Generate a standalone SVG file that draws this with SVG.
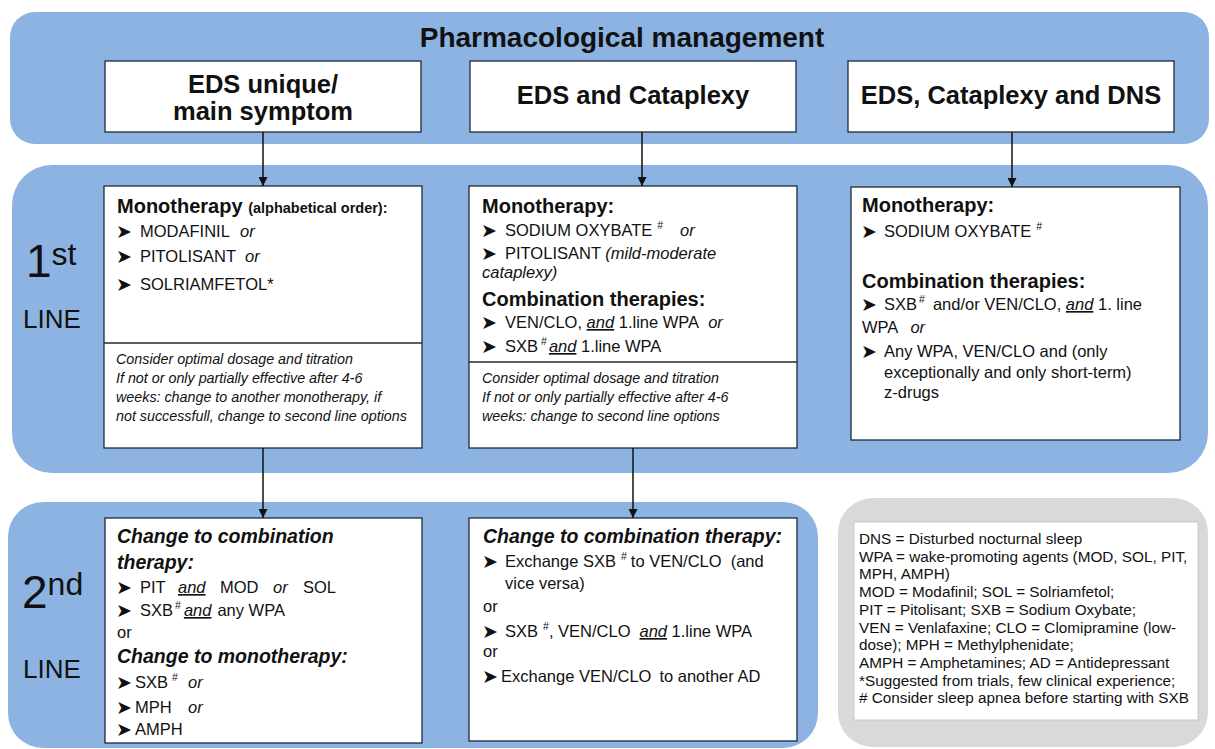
<svg xmlns="http://www.w3.org/2000/svg" width="1215" height="749" viewBox="0 0 1215 749">
<defs>
<marker id="ah" viewBox="0 0 10 10" refX="10" refY="5" markerWidth="9" markerHeight="9" markerUnits="userSpaceOnUse" orient="auto"><path d="M0,0 L10,5 L0,10 z" fill="#111"/></marker>
</defs>
<style>
.band{fill:#8DB3E2}
.box{fill:#fff;stroke:#1e2a38;stroke-width:1.3}
.t{font-family:"Liberation Sans",Arial,sans-serif;fill:#111}
.title{font-weight:bold;font-size:28px}
.h{font-weight:bold;font-size:25.5px}
.b{font-size:16.5px}
.hb{font-weight:bold;font-size:20px}
.hi{font-weight:bold;font-style:italic;font-size:19.5px}
.i{font-style:italic}
.u{font-style:italic;text-decoration:underline}
.n{font-style:italic;font-size:14.3px}
.sup{font-size:10.5px}
.ar{font-family:"DejaVu Sans",sans-serif;font-size:19px;fill:#111}
.line{font-family:"Liberation Sans",Arial,sans-serif;fill:#111}
.lg{font-size:15.3px}
.conn{stroke:#111;stroke-width:1.5;fill:none;marker-end:url(#ah)}
</style>
<rect width="1215" height="749" fill="#fff"/>

<g id="band-top">
<rect class="band" x="10" y="12" width="1199" height="132" rx="25"/>
<text class="t title" x="622" y="47" text-anchor="middle">Pharmacological management</text>
</g>
<g id="band-1st">
<rect class="band" x="12" y="165" width="1196" height="308" rx="40"/>
<text class="line" x="26" y="277" font-size="46">1<tspan font-size="32" dy="-12">st</tspan></text>
<text class="line" x="23" y="328" font-size="26">LINE</text>
</g>
<g id="band-2nd">
<rect class="band" x="8" y="502" width="810" height="246" rx="35"/>
<text class="line" x="22" y="608" font-size="46">2<tspan font-size="32" dy="-13">nd</tspan></text>
<text class="line" x="23" y="678" font-size="26">LINE</text>
</g>

<g id="hdr-eds">
<rect class="box" x="105" y="61" width="316" height="71"/>
<text class="t h" x="263" y="93" text-anchor="middle">EDS unique/</text>
<text class="t h" x="263" y="120" text-anchor="middle">main symptom</text>
</g>
<g id="hdr-eds-cat">
<rect class="box" x="470" y="61" width="326" height="71"/>
<text class="t h" x="633" y="104" text-anchor="middle">EDS and Cataplexy</text>
</g>
<g id="hdr-eds-cat-dns">
<rect class="box" x="848" y="61" width="326" height="71"/>
<text class="t h" x="1011" y="104" text-anchor="middle">EDS, Cataplexy and DNS</text>
</g>

<g id="l1-eds">
<rect class="box" x="104" y="186" width="318" height="262"/>
<line x1="104" y1="343" x2="422" y2="343" stroke="#1e2a38" stroke-width="1.3"/>
<text class="t hb" x="117" y="213">Monotherapy <tspan font-size="14.5">(alphabetical order):</tspan></text>
<text class="ar" x="116" y="238">➤</text><text class="t b" x="140" y="237">MODAFINIL<tspan class="i" x="240">or</tspan></text>
<text class="ar" x="116" y="263">➤</text><text class="t b" x="140" y="262">PITOLISANT<tspan class="i" x="245">or</tspan></text>
<text class="ar" x="116" y="291">➤</text><text class="t b" x="140" y="290">SOLRIAMFETOL*</text>
<text class="t n" x="116" y="364">Consider optimal dosage and titration</text>
<text class="t n" x="116" y="383">If not or only partially effective after 4-6</text>
<text class="t n" x="116" y="402">weeks: change to another monotherapy, if</text>
<text class="t n" x="116" y="421">not successfull, change to second line options</text>
</g>

<g id="l1-eds-cat">
<rect class="box" x="469" y="186" width="328" height="262"/>
<line x1="469" y1="362" x2="797" y2="362" stroke="#1e2a38" stroke-width="1.3"/>
<text class="t hb" x="482" y="213">Monotherapy:</text>
<text class="ar" x="481" y="237">➤</text><text class="t b" x="505" y="236">SODIUM OXYBATE<tspan class="sup" dx="5" dy="-7">#</tspan><tspan class="i" x="680" dy="7">or</tspan></text>
<text class="ar" x="481" y="260">➤</text><text class="t b" x="505" y="259">PITOLISANT <tspan class="i">(mild-moderate</tspan></text>
<text class="t b i" x="482" y="278">cataplexy)</text>
<text class="t hb" x="482" y="306">Combination therapies:</text>
<text class="ar" x="481" y="329">➤</text><text class="t b" x="505" y="328">VEN/CLO, <tspan class="u">and</tspan> 1.line WPA<tspan class="i" dx="9">or</tspan></text>
<text class="ar" x="481" y="353">➤</text><text class="t b" x="505" y="352">SXB<tspan class="sup" dx="3" dy="-7">#</tspan><tspan class="u" dx="2" dy="7">and</tspan> 1.line WPA</text>
<text class="t n" x="482" y="383">Consider optimal dosage and titration</text>
<text class="t n" x="482" y="402">If not or only partially effective after  4-6</text>
<text class="t n" x="482" y="421">weeks: change to second line options</text>
</g>

<g id="l1-eds-cat-dns">
<rect class="box" x="851" y="187" width="329" height="253"/>
<text class="t hb" x="862" y="212">Monotherapy:</text>
<text class="ar" x="861" y="238">➤</text><text class="t b" x="884" y="237">SODIUM OXYBATE<tspan class="sup" dx="5" dy="-7">#</tspan></text>
<text class="t hb" x="862" y="288">Combination therapies:</text>
<text class="ar" x="861" y="311">➤</text><text class="t b" x="884" y="310">SXB<tspan class="sup" dx="2" dy="-7">#</tspan><tspan dx="8" dy="7">and/or VEN/CLO, </tspan><tspan class="u">and</tspan> 1. line</text>
<text class="t b" x="862" y="333">WPA<tspan class="i" dx="12">or</tspan></text>
<text class="ar" x="861" y="358">➤</text><text class="t b" x="884" y="357">Any WPA, VEN/CLO and (only</text>
<text class="t b" x="884" y="378">exceptionally and only short-term)</text>
<text class="t b" x="884" y="398">z-drugs</text>
</g>

<g id="l2-eds">
<rect class="box" x="105" y="518" width="317" height="225"/>
<text class="t hi" x="117" y="543">Change to combination</text>
<text class="t hi" x="117" y="569">therapy:</text>
<text class="ar" x="116" y="594">➤</text><text class="t b" x="140" y="593">PIT<tspan class="u" x="178">and</tspan><tspan x="220">MOD</tspan><tspan class="i" x="273">or</tspan><tspan x="303">SOL</tspan></text>
<text class="ar" x="116" y="617">➤</text><text class="t b" x="140" y="616">SXB<tspan class="sup" dx="2" dy="-7">#</tspan><tspan class="u" dx="3" dy="7">and</tspan><tspan dx="6">any WPA</tspan></text>
<text class="t b" x="117" y="638">or</text>
<text class="t hi" x="117" y="663">Change to monotherapy:</text>
<text class="ar" x="116" y="689">➤</text><text class="t b" x="135" y="688">SXB<tspan class="sup" dx="4" dy="-7">#</tspan><tspan class="i" x="188" dy="7">or</tspan></text>
<text class="ar" x="116" y="714">➤</text><text class="t b" x="135" y="713">MPH<tspan class="i" x="188">or</tspan></text>
<text class="ar" x="116" y="736">➤</text><text class="t b" x="135" y="735">AMPH</text>
</g>

<g id="l2-eds-cat">
<rect class="box" x="469" y="518" width="328" height="223"/>
<text class="t hi" x="483" y="543">Change to combination therapy:</text>
<text class="ar" x="482" y="568">➤</text><text class="t b" x="505" y="567">Exchange SXB<tspan class="sup" dx="5" dy="-7">#</tspan><tspan dx="4" dy="7">to VEN/CLO</tspan><tspan dx="9">(and</tspan></text>
<text class="t b" x="505" y="589">vice versa)</text>
<text class="t b" x="483" y="612">or</text>
<text class="ar" x="482" y="638">➤</text><text class="t b" x="505" y="637">SXB<tspan class="sup" dx="5" dy="-7">#</tspan><tspan dy="7">, VEN/CLO</tspan><tspan class="u" dx="9">and</tspan> 1.line WPA</text>
<text class="t b" x="483" y="657">or</text>
<text class="ar" x="482" y="683">➤</text><text class="t b" x="501" y="682">Exchange VEN/CLO<tspan dx="8">to another AD</tspan></text>
</g>

<g id="legend">
<rect x="838" y="498" width="370" height="249" rx="35" fill="#D9D9D9"/>
<rect x="854" y="522" width="344" height="198" fill="#fff" stroke="#c8c8c8" stroke-width="1"/>
<text class="t lg" x="859" y="544">DNS = Disturbed nocturnal sleep</text>
<text class="t lg" x="859" y="561.7">WPA = wake-promoting agents (MOD, SOL, PIT,</text>
<text class="t lg" x="859" y="579.4">MPH, AMPH)</text>
<text class="t lg" x="859" y="597.1">MOD = Modafinil; SOL = Solriamfetol;</text>
<text class="t lg" x="859" y="614.8">PIT = Pitolisant; SXB = Sodium Oxybate;</text>
<text class="t lg" x="859" y="632.5">VEN = Venlafaxine; CLO = Clomipramine (low-</text>
<text class="t lg" x="859" y="650.2">dose); MPH = Methylphenidate;</text>
<text class="t lg" x="859" y="667.9">AMPH = Amphetamines; AD = Antidepressant</text>
<text class="t lg" x="859" y="685.6">*Suggested from trials, few clinical experience;</text>
<text class="t lg" x="859" y="703.3"># Consider sleep apnea before starting with SXB</text>
</g>

<g id="connectors">
<line class="conn" x1="263" y1="132" x2="263" y2="186"/>
<line class="conn" x1="642" y1="132" x2="642" y2="186"/>
<line class="conn" x1="1012" y1="132" x2="1012" y2="187"/>
<line class="conn" x1="263" y1="448" x2="263" y2="518"/>
<line class="conn" x1="633" y1="448" x2="633" y2="518"/>
</g>
</svg>
